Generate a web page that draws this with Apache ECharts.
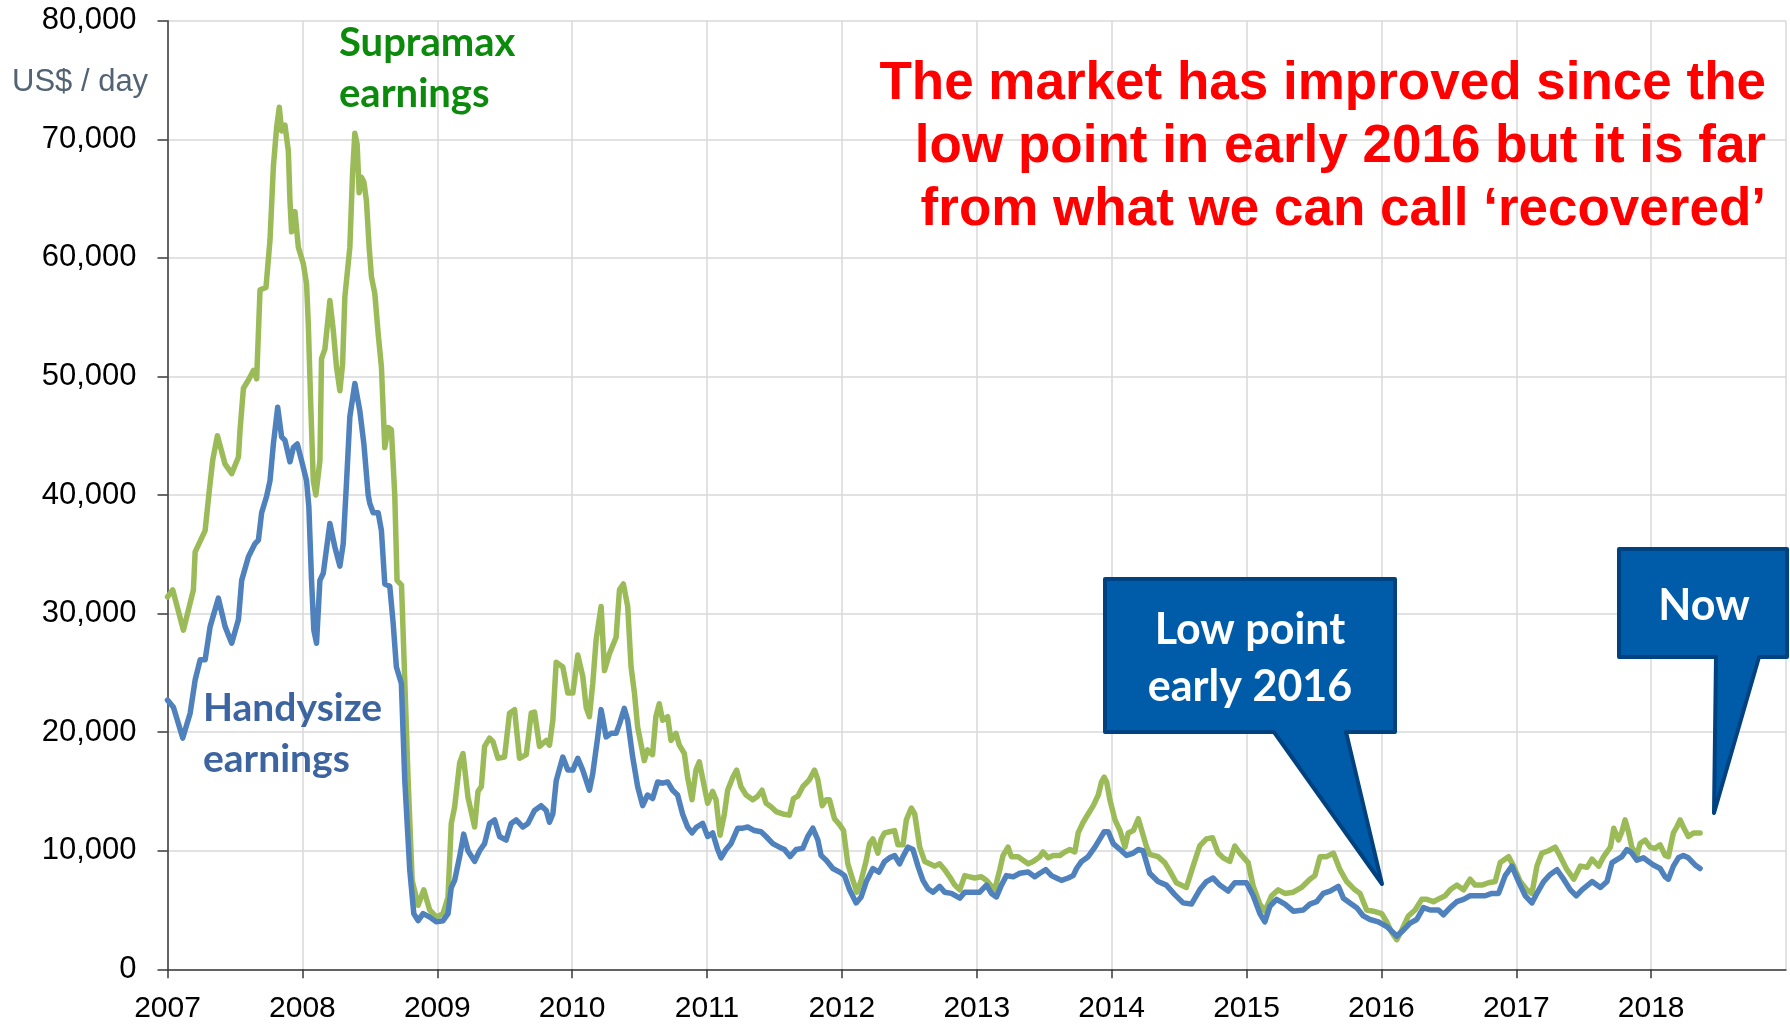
<!DOCTYPE html>
<html>
<head>
<meta charset="utf-8">
<script src="https://cdn.jsdelivr.net/npm/echarts@6/dist/echarts.min.js"></script>
<style>
  html, body { margin: 0; padding: 0; background: #fff; }
  #chart { width: 1790px; height: 1024px; }
</style>
</head>
<body>
<div id="chart"></div>
<script>
// Supramax earnings (US$/day), dates as decimal years
var supraT = [
  2007.000, 2007.039, 2007.118, 2007.192, 2007.205, 2007.279, 2007.311, 2007.336, 2007.370, 2007.427,
  2007.476, 2007.526, 2007.538, 2007.563, 2007.600, 2007.637, 2007.661, 2007.686, 2007.730, 2007.760,
  2007.785, 2007.809, 2007.829, 2007.846, 2007.871, 2007.896, 2007.908, 2007.920, 2007.945, 2007.970,
  2008.007, 2008.031, 2008.044, 2008.061, 2008.081, 2008.100, 2008.130, 2008.142, 2008.167, 2008.204,
  2008.229, 2008.253, 2008.278, 2008.298, 2008.315, 2008.352, 2008.372, 2008.389, 2008.406, 2008.421,
  2008.438, 2008.456, 2008.475, 2008.495, 2008.512, 2008.537, 2008.562, 2008.586, 2008.611, 2008.636,
  2008.660, 2008.685, 2008.702, 2008.735, 2008.759, 2008.784, 2008.814, 2008.858, 2008.900, 2008.944,
  2008.994,
  2009.043, 2009.080, 2009.104, 2009.129, 2009.166, 2009.191, 2009.228, 2009.277, 2009.302, 2009.327,
  2009.351, 2009.388, 2009.413, 2009.450, 2009.499, 2009.536, 2009.573, 2009.610, 2009.660, 2009.697,
  2009.721, 2009.758, 2009.808, 2009.832, 2009.857, 2009.882, 2009.931, 2009.968,
  2010.005, 2010.042, 2010.079, 2010.104, 2010.128, 2010.153, 2010.178, 2010.215, 2010.240, 2010.276,
  2010.326, 2010.351, 2010.380, 2010.412, 2010.437, 2010.462, 2010.486, 2010.535, 2010.559, 2010.596,
  2010.621, 2010.646, 2010.671, 2010.708, 2010.733, 2010.770, 2010.795, 2010.832, 2010.856, 2010.889,
  2010.918, 2010.943, 2010.980,
  2011.005, 2011.042, 2011.067, 2011.097, 2011.129, 2011.153, 2011.191, 2011.220, 2011.252, 2011.290,
  2011.339, 2011.376, 2011.408, 2011.438, 2011.475, 2011.512, 2011.562, 2011.611, 2011.641, 2011.673,
  2011.710, 2011.760, 2011.797, 2011.822, 2011.854, 2011.884, 2011.908, 2011.945, 2011.983,
  2012.012, 2012.044, 2012.082, 2012.111, 2012.143, 2012.181, 2012.205, 2012.230, 2012.267, 2012.292,
  2012.317, 2012.354, 2012.391, 2012.416, 2012.453, 2012.478, 2012.515, 2012.540, 2012.577, 2012.614,
  2012.651, 2012.688, 2012.725, 2012.762, 2012.799, 2012.837, 2012.874, 2012.911, 2012.948, 2012.985,
  2013.034, 2013.072, 2013.109, 2013.133, 2013.171, 2013.195, 2013.232, 2013.257, 2013.307, 2013.344,
  2013.381, 2013.418, 2013.468, 2013.492, 2013.529, 2013.567, 2013.616, 2013.653, 2013.690, 2013.727,
  2013.752, 2013.789, 2013.826, 2013.864, 2013.901, 2013.925, 2013.945, 2013.963, 2013.987,
  2014.025, 2014.062, 2014.099, 2014.123, 2014.161, 2014.198, 2014.257, 2014.282, 2014.344, 2014.394,
  2014.431, 2014.480, 2014.554, 2014.604, 2014.653, 2014.703, 2014.748, 2014.790, 2014.827, 2014.876,
  2014.913, 2014.950,
  2015.012, 2015.050, 2015.099, 2015.136, 2015.186, 2015.235, 2015.285, 2015.347, 2015.408, 2015.470,
  2015.507, 2015.545, 2015.594, 2015.644, 2015.693, 2015.743, 2015.804, 2015.842, 2015.891, 2015.941,
  2016.002, 2016.040, 2016.077, 2016.114, 2016.151, 2016.200, 2016.250, 2016.299, 2016.337, 2016.386,
  2016.436, 2016.473, 2016.510, 2016.559, 2016.609, 2016.658, 2016.695, 2016.745, 2016.794, 2016.844,
  2016.881, 2016.943, 2016.980,
  2017.030, 2017.079, 2017.116, 2017.153, 2017.190, 2017.240, 2017.289, 2017.327, 2017.376, 2017.426,
  2017.475, 2017.525, 2017.562, 2017.611, 2017.648, 2017.698, 2017.723, 2017.758, 2017.783, 2017.807,
  2017.832, 2017.857, 2017.894, 2017.918, 2017.956, 2017.993,
  2018.030, 2018.067, 2018.104, 2018.128, 2018.165, 2018.190, 2018.215, 2018.239, 2018.276, 2018.314,
  2018.363
];
var supraV = [
  31400, 32000, 28600, 32000, 35200, 37000, 40500, 43000, 45000, 42600,
  41800, 43200, 45500, 49000, 49700, 50500, 49800, 57300, 57500, 61500,
  67700, 71000, 72700, 70700, 71200, 69000, 64800, 62200, 63900, 60900,
  59500, 57800, 54400, 48000, 41200, 40000, 42900, 51500, 52300, 56400,
  53900, 50800, 48800, 51000, 56700, 60900, 67100, 70500, 69600, 65500,
  66800, 66400, 64800, 60900, 58400, 57000, 53600, 50800, 44000, 45700,
  45500, 40000, 32800, 32400, 24400, 16000, 7500, 5400, 6700, 5000,
  4400,
  4700, 6100, 12300, 13700, 17400, 18200, 14500, 12000, 15000, 15400,
  18800, 19500, 19200, 17800, 17900, 21600, 21900, 17800, 18100, 21600,
  21700, 18800, 19300, 18900, 21000, 25900, 25500, 23300,
  23300, 26500, 24700, 22100, 21300, 24100, 27800, 30600, 25200, 26600,
  28000, 32000, 32500, 30600, 25500, 23300, 20400, 17600, 18500, 18100,
  21300, 22400, 21000, 21300, 19300, 19900, 18900, 18200, 16200, 14300,
  16800, 17500, 15400,
  14000, 15000, 14300, 11300, 13100, 15100, 16200, 16800, 15400, 14700,
  14300, 14600, 15100, 14000, 13700, 13300, 13100, 13000, 14400, 14600,
  15400, 16000, 16800, 16000, 13800, 14300, 14300, 12700, 12200,
  11700, 8900, 7500, 6500, 7500, 9200, 10600, 11000, 9800, 11000,
  11500, 11600, 11700, 10500, 10500, 12600, 13600, 13100, 10300, 9100,
  8900, 8700, 8900, 8400, 7800, 7100, 6700, 7900, 7800, 7700,
  7800, 7500, 7000, 6700, 8400, 9600, 10300, 9500, 9500, 9200,
  8900, 9100, 9500, 9900, 9400, 9600, 9600, 9900, 10100, 9900,
  11500, 12400, 13100, 13800, 14700, 15800, 16200, 15800, 14300,
  12600, 11700, 10300, 11500, 11700, 12700, 10400, 9700, 9500, 9000,
  8300, 7300, 6900, 8700, 10400, 11000, 11100, 9800, 9400, 9100,
  10400, 9800,
  9000, 7000, 5500, 4900, 6200, 6700, 6400, 6500, 6900, 7600,
  7900, 9500, 9500, 9800, 8400, 7400, 6700, 6400, 5000, 4900,
  4700, 4000, 3100, 2500, 3300, 4500, 5000, 5900, 5900, 5700,
  6000, 6200, 6700, 7100, 6700, 7600, 7100, 7100, 7300, 7400,
  9000, 9500, 8700,
  7400, 6700, 6400, 8700, 9800, 10000, 10300, 9500, 8400, 7600,
  8700, 8600, 9300, 8700, 9500, 10300, 11900, 10900, 11600, 12600,
  11600, 10300, 9600, 10600, 10900, 10300,
  10200, 10500, 9600, 9500, 11500, 12000, 12600, 12000, 11200, 11500,
  11500
];

// Handysize earnings (US$/day)
var handyT = [
  2007.000, 2007.044, 2007.113, 2007.168, 2007.205, 2007.242, 2007.279, 2007.316, 2007.377, 2007.427,
  2007.476, 2007.526, 2007.550, 2007.600, 2007.649, 2007.674, 2007.698, 2007.735, 2007.760, 2007.785,
  2007.817, 2007.846, 2007.871, 2007.908, 2007.933, 2007.962, 2007.994,
  2008.031, 2008.048, 2008.068, 2008.085, 2008.105, 2008.130, 2008.155, 2008.204, 2008.241, 2008.278,
  2008.303, 2008.327, 2008.352, 2008.389, 2008.426, 2008.456, 2008.488, 2008.500, 2008.525, 2008.562,
  2008.586, 2008.611, 2008.648, 2008.673, 2008.697, 2008.734, 2008.759, 2008.796, 2008.826, 2008.858,
  2008.895, 2008.944, 2008.993,
  2009.043, 2009.080, 2009.104, 2009.129, 2009.166, 2009.196, 2009.228, 2009.277, 2009.314, 2009.351,
  2009.388, 2009.425, 2009.462, 2009.511, 2009.548, 2009.585, 2009.635, 2009.672, 2009.721, 2009.770,
  2009.808, 2009.832, 2009.857, 2009.882, 2009.931, 2009.968,
  2010.005, 2010.042, 2010.079, 2010.128, 2010.153, 2010.190, 2010.215, 2010.252, 2010.289, 2010.326,
  2010.351, 2010.387, 2010.412, 2010.449, 2010.486, 2010.523, 2010.559, 2010.597, 2010.634, 2010.671,
  2010.708, 2010.745, 2010.782, 2010.819, 2010.856, 2010.889, 2010.923, 2010.968,
  2011.005, 2011.042, 2011.079, 2011.104, 2011.141, 2011.178, 2011.228, 2011.265, 2011.302, 2011.351,
  2011.401, 2011.438, 2011.488, 2011.537, 2011.574, 2011.616, 2011.661, 2011.710, 2011.747, 2011.785,
  2011.822, 2011.846, 2011.884, 2011.933, 2011.983,
  2012.020, 2012.057, 2012.106, 2012.143, 2012.181, 2012.230, 2012.275, 2012.317, 2012.354, 2012.391,
  2012.428, 2012.453, 2012.490, 2012.527, 2012.564, 2012.601, 2012.638, 2012.676, 2012.725, 2012.762,
  2012.812, 2012.874, 2012.911, 2012.973,
  2013.022, 2013.072, 2013.109, 2013.146, 2013.183, 2013.220, 2013.270, 2013.319, 2013.381, 2013.430,
  2013.468, 2013.512, 2013.554, 2013.591, 2013.628, 2013.678, 2013.715, 2013.740, 2013.777, 2013.826,
  2013.876, 2013.913, 2013.945, 2013.975,
  2014.012, 2014.062, 2014.111, 2014.161, 2014.198, 2014.233, 2014.282, 2014.344, 2014.406, 2014.468,
  2014.530, 2014.592, 2014.653, 2014.703, 2014.752, 2014.802, 2014.864, 2014.913,
  2015.000, 2015.050, 2015.099, 2015.136, 2015.173, 2015.223, 2015.285, 2015.347, 2015.421, 2015.470,
  2015.520, 2015.569, 2015.619, 2015.681, 2015.718, 2015.767, 2015.817, 2015.866, 2015.916, 2015.978,
  2016.040, 2016.077, 2016.114, 2016.163, 2016.213, 2016.262, 2016.312, 2016.361, 2016.423, 2016.460,
  2016.510, 2016.559, 2016.609, 2016.658, 2016.708, 2016.770, 2016.819, 2016.869, 2016.918, 2016.968,
  2017.017, 2017.067, 2017.116, 2017.153, 2017.203, 2017.252, 2017.302, 2017.351, 2017.401, 2017.445,
  2017.487, 2017.562, 2017.624, 2017.673, 2017.710, 2017.783, 2017.820, 2017.857, 2017.894, 2017.943,
  2017.980,
  2018.017, 2018.067, 2018.104, 2018.128, 2018.165, 2018.202, 2018.239, 2018.276, 2018.326, 2018.363
];
var handyV = [
  22700, 22100, 19500, 21600, 24400, 26100, 26100, 28900, 31300, 28900,
  27500, 29500, 32800, 34800, 35900, 36200, 38500, 39900, 41200, 44300,
  47400, 44900, 44600, 42800, 44000, 44300, 42900,
  41200, 39000, 32800, 28600, 27500, 32800, 33400, 37600, 35600, 34000,
  35900, 41000, 46600, 49400, 47100, 44300, 40000, 39300, 38500, 38500,
  37000, 32500, 32300, 29200, 25500, 24100, 16000, 8400, 4700, 4100,
  4700, 4400, 4000,
  4100, 4700, 6900, 7500, 9500, 11400, 10000, 9100, 10000, 10600,
  12300, 12600, 11200, 10900, 12300, 12600, 12000, 12300, 13400, 13800,
  13400, 12400, 13100, 15900, 17900, 16800,
  16800, 17800, 16800, 15100, 16500, 19600, 21900, 19600, 19900, 19900,
  20700, 22000, 21000, 17900, 15400, 13800, 14700, 14400, 15800, 15700,
  15800, 15100, 14700, 13100, 12000, 11500, 12000, 12300,
  11200, 11500, 10100, 9400, 10100, 10600, 11900, 11900, 12000, 11700,
  11600, 11200, 10600, 10300, 10100, 9500, 10100, 10200, 11200, 11900,
  10900, 9600, 9200, 8500, 8200,
  7900, 6700, 5600, 6100, 7400, 8500, 8200, 9100, 9400, 9600,
  8900, 9500, 10300, 10100, 8700, 7500, 6800, 6500, 7000, 6500,
  6400, 6000, 6500, 6500,
  6500, 7100, 6400, 6100, 7100, 7900, 7800, 8100, 8200, 7800,
  8100, 8400, 7900, 7700, 7500, 7700, 7900, 8500, 9100, 9500,
  10300, 11000, 11600, 11600,
  10600, 10100, 9600, 9800, 10100, 10000, 8100, 7400, 7100, 6300,
  5600, 5500, 6700, 7400, 7700, 7100, 6600, 7300,
  7300, 6200, 4700, 4000, 5300, 5900, 5500, 4900, 5000, 5500,
  5700, 6400, 6600, 7000, 6000, 5600, 5200, 4500, 4200, 4000,
  3600, 3200, 2800, 3300, 3900, 4200, 5200, 5000, 5000, 4600,
  5200, 5700, 5900, 6200, 6200, 6200, 6400, 6400, 7900, 8700,
  7400, 6200, 5600, 6400, 7400, 8000, 8400, 7600, 6700, 6200,
  6700, 7400, 6900, 7400, 9000, 9500, 10100, 9800, 9200, 9400,
  9100,
  8800, 8500, 7800, 7600, 8700, 9400, 9600, 9400, 8800, 8500
];

var yearMin = 2007, yearMax = 2019;
var valueMax = 80000;

var chart = echarts.init(document.getElementById('chart'), null, { renderer: 'canvas' });

function pairs(ts, vs) {
  return ts.map(function (t, i) { return [t, vs[i]]; });
}

var white = '#ffffff';
var boxFill = '#005ca9';
var boxEdge = '#00427f';

chart.setOption({
  animation: false,
  backgroundColor: '#ffffff',
  grid: { left: 167.5, right: 4, top: 20.7, bottom: 54.7, containLabel: false },
  xAxis: {
    type: 'value', min: yearMin, max: yearMax, interval: 1,
    axisLine: { lineStyle: { color: '#3a3a3a', width: 1.5 } },
    axisTick: { show: true, inside: false, length: 9, lineStyle: { color: '#3a3a3a', width: 1.5 } },
    axisLabel: {
      margin: 24, fontSize: 30, fontFamily: 'Liberation Sans', color: '#000',
      formatter: function (v) { return String(v); },
      showMaxLabel: false
    },
    splitLine: { show: true, lineStyle: { color: '#d9d9d9', width: 1.5 } }
  },
  yAxis: {
    type: 'value', min: 0, max: valueMax, interval: 10000,
    axisLine: { show: true, lineStyle: { color: '#3a3a3a', width: 1.5 } },
    axisTick: { show: true, inside: false, length: 10, lineStyle: { color: '#3a3a3a', width: 1.5 } },
    axisLabel: { margin: 31, fontSize: 31, fontFamily: 'Liberation Sans', color: '#000' },
    splitLine: { show: true, lineStyle: { color: '#d9d9d9', width: 1.5 } }
  },
  series: [
    {
      name: 'Supramax', type: 'line', data: pairs(supraT, supraV),
      showSymbol: false, smooth: false,
      lineStyle: { color: '#9bbb59', width: 5.5, join: 'round', cap: 'round' },
      z: 2
    },
    {
      name: 'Handysize', type: 'line', data: pairs(handyT, handyV),
      showSymbol: false, smooth: false,
      lineStyle: { color: '#4f81bd', width: 5.5, join: 'round', cap: 'round' },
      z: 3
    }
  ],
  graphic: [
    { type: 'text', x: 12, y: 82, z: 10,
      style: { text: 'US$ / day', font: '31px "Liberation Sans"', fill: '#526373', textAlign: 'left', textVerticalAlign: 'middle' } },

    { type: 'text', x: 1766, y: 84, z: 10,
      style: { text: 'The market has improved since the', font: 'bold 53px "Liberation Sans"', fill: '#ff0000', textAlign: 'right', textVerticalAlign: 'middle' } },
    { type: 'text', x: 1766, y: 147.5, z: 10,
      style: { text: 'low point in early 2016 but it is far', font: 'bold 53px "Liberation Sans"', fill: '#ff0000', textAlign: 'right', textVerticalAlign: 'middle' } },
    { type: 'text', x: 1766, y: 210.5, z: 10,
      style: { text: 'from what we can call \u2018recovered\u2019', font: 'bold 53px "Liberation Sans"', fill: '#ff0000', textAlign: 'right', textVerticalAlign: 'middle' } },

    { type: 'text', x: 339, y: 43, z: 10,
      style: { text: 'Supramax', font: 'bold 40px Lato', fill: '#0c8a0c', textAlign: 'left', textVerticalAlign: 'middle' } },
    { type: 'text', x: 339, y: 94, z: 10,
      style: { text: 'earnings', font: 'bold 40px Lato', fill: '#0c8a0c', textAlign: 'left', textVerticalAlign: 'middle' } },

    { type: 'text', x: 203, y: 708.5, z: 10,
      style: { text: 'Handysize', font: 'bold 39px Lato', fill: '#3c64a0', textAlign: 'left', textVerticalAlign: 'middle' } },
    { type: 'text', x: 203, y: 759.5, z: 10,
      style: { text: 'earnings', font: 'bold 39px Lato', fill: '#3c64a0', textAlign: 'left', textVerticalAlign: 'middle' } },

    { type: 'polygon', z: 20,
      shape: { points: [[1105, 579], [1395, 579], [1395, 732], [1346, 732], [1382, 884], [1274, 732], [1105, 732]] },
      style: { fill: boxFill, stroke: boxEdge, lineWidth: 4, lineJoin: 'round' } },
    { type: 'text', x: 1250, y: 630.5, z: 21,
      style: { text: 'Low point', font: 'bold 43px Lato', fill: white, textAlign: 'center', textVerticalAlign: 'middle' } },
    { type: 'text', x: 1250, y: 687.5, z: 21,
      style: { text: 'early 2016', font: 'bold 43px Lato', fill: white, textAlign: 'center', textVerticalAlign: 'middle' } },

    { type: 'polygon', z: 20,
      shape: { points: [[1619, 549], [1787, 549], [1787, 657], [1759, 657], [1714, 813], [1716, 657], [1619, 657]] },
      style: { fill: boxFill, stroke: boxEdge, lineWidth: 4, lineJoin: 'round' } },
    { type: 'text', x: 1704, y: 606, z: 21,
      style: { text: 'Now', font: 'bold 43px Lato', fill: white, textAlign: 'center', textVerticalAlign: 'middle' } }
  ]
});
</script>
</body>
</html>
